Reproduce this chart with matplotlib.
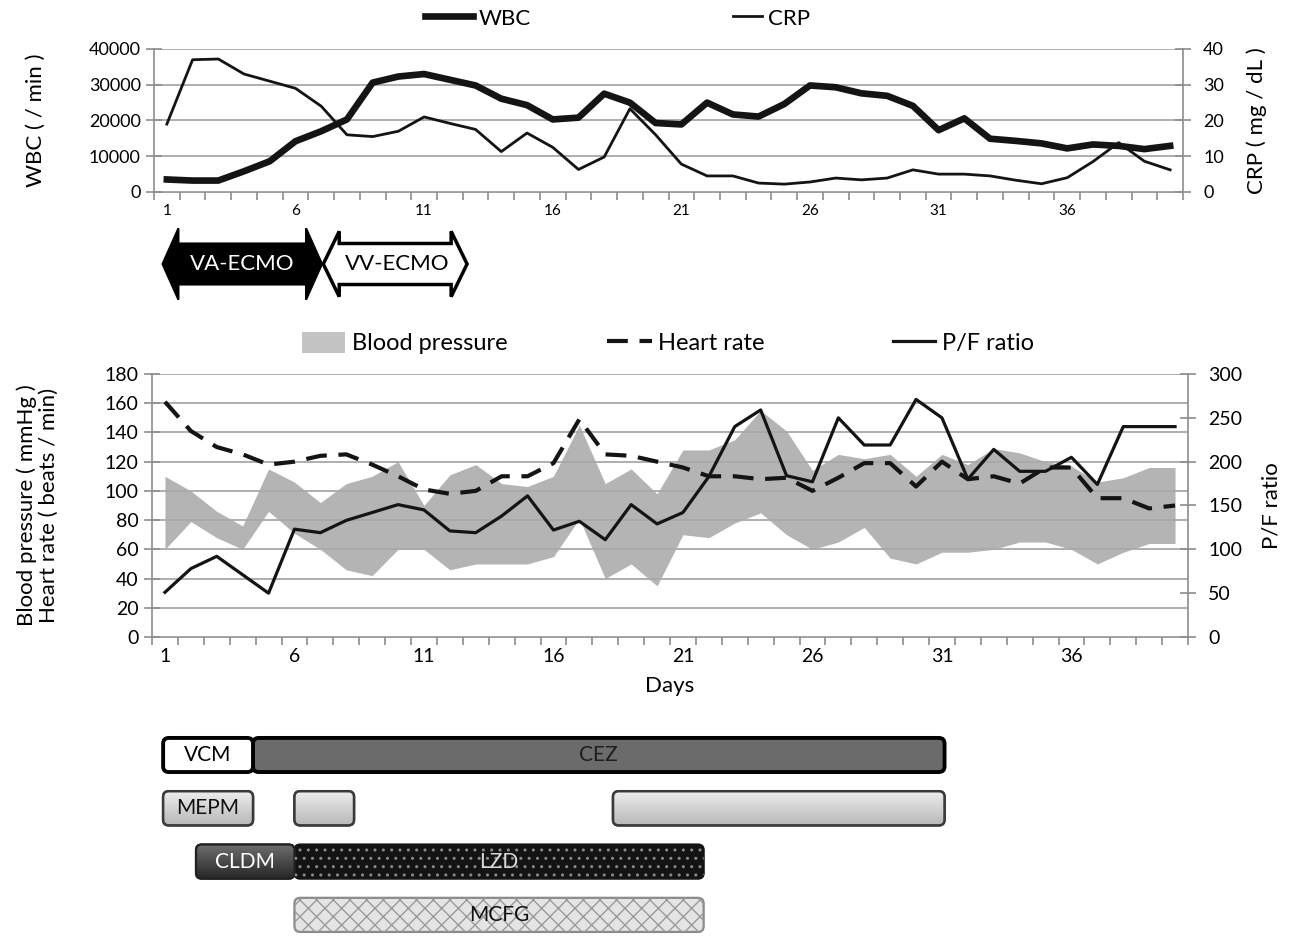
import numpy as np
import matplotlib.pyplot as plt
from matplotlib.patches import Polygon, FancyBboxPatch, Patch
from matplotlib.lines import Line2D

plt.rcParams['font.family'] = ['Lato', 'DejaVu Sans']

days = np.arange(1, 41)
day_ticks = [1, 6, 11, 16, 21, 26, 31, 36]

# top panel
wbc = [3500, 3200, 3200, 5800, 8600, 14200, 17000, 20300, 30600, 32300,
       33000, 31400, 29800, 26100, 24300, 20300, 20800, 27500, 25000, 19300,
       18900, 25000, 21700, 21100, 24600, 29800, 29300, 27600, 26900, 24100,
       17300, 20600, 14900, 14300, 13600, 12200, 13300, 12900, 12000, 12900]
crp = [19, 37, 37.2, 33, 31, 29, 24, 16, 15.5, 17,
       21, 19.2, 17.5, 11.3, 16.5, 12.5, 6.3, 9.8, 23.3, 16,
       7.8, 4.5, 4.5, 2.5, 2.2, 2.8, 3.9, 3.4, 3.9, 6.2,
       5, 5, 4.5, 3.3, 2.3, 4, 8.5, 13.8, 8.6, 6.2]

# middle panel
bp_high = [110, 100, 86, 76, 115, 106, 92, 105, 110, 120,
           90, 111, 118, 105, 103, 110, 145, 105, 115, 98,
           128, 128, 135, 155, 141, 114, 125, 122, 125, 110,
           125, 118, 129, 126, 120, 117, 106, 109, 116, 116]
bp_low = [60, 79, 68, 60, 86, 71, 60, 46, 42, 60,
          60, 46, 50, 50, 50, 55, 81, 40, 50, 35,
          70, 68, 78, 85, 70, 60, 65, 75, 54, 50,
          58, 58, 60, 65, 65, 60, 50, 58, 64, 64]
heart_rate = [161, 141, 130, 125, 118, 120, 124, 125, 118, 110,
              101, 98, 100, 110, 110, 119, 149, 125, 124, 120,
              116, 110, 110, 108, 109, 100, 109, 119, 119, 103,
              120, 108, 110, 105, 116, 116, 95, 95, 88, 90]
pf_ratio = [51, 78, 92, 71, 50, 123, 119, 133, 142, 151,
            145, 121, 119, 138, 161, 122, 132, 111, 151, 129,
            142, 183, 240, 259, 184, 177, 250, 219, 219, 271,
            250, 180, 214, 189, 189, 205, 174, 240, 240, 240]

# ECMO periods (days)
ecmo_labels = ['VA-ECMO', 'VV-ECMO']
ecmo_start = [0.83, 7.03]
ecmo_end = [7.03, 12.67]

# antimicrobials (days)
drug_kind = ['CEZ', 'VCM', 'MEPM', 'MEPM', 'MEPM', 'CLDM', 'LZD', 'MCFG']
drug_labels = ['CEZ', 'VCM', 'MEPM', '', '', 'CLDM', 'LZD', 'MCFG']
drug_rows = [0, 0, 1, 1, 1, 2, 2, 3]
drug_start = [4.4, 0.93, 0.93, 6.0, 18.3, 2.2, 6.0, 6.0]
drug_end = [31.1, 4.4, 4.4, 8.3, 31.1, 6.0, 21.8, 21.8]

W, H = 1293, 936
fig = plt.figure(figsize=(W / 100, H / 100), dpi=100)


def box(l, t, r, b):
    return [l / W, 1 - b / H, (r - l) / W, (b - t) / H]


grid_c = '#a8a8a8'
axis_c = '#8c8c8c'
line_c = '#141414'
hr_dash = (0, (5, 2.8))


def style_axes(ax, axr):
    ax.set_xlim(0.5, 40.5)
    ax.set_xticks(day_ticks)
    ax.set_xticks(np.arange(0.5, 41, 1), minor=True)
    ax.tick_params(axis='x', which='major', length=0)
    ax.tick_params(axis='x', which='minor', length=6, color=axis_c, width=1.2)
    ax.tick_params(axis='y', length=11, direction='inout', color=axis_c, width=1.2, pad=4)
    axr.tick_params(axis='y', length=11, direction='inout', color=axis_c, width=1.2, pad=9)
    for s in ['top', 'right']:
        ax.spines[s].set_visible(False)
    for s in ['top', 'left', 'bottom']:
        axr.spines[s].set_visible(False)
    for a, s in [(ax, 'left'), (ax, 'bottom'), (axr, 'right')]:
        a.spines[s].set_color(axis_c)
        a.spines[s].set_linewidth(1.2)
    ax.grid(axis='y', color=grid_c, lw=1.3)
    ax.set_axisbelow(False)


def legend_item(handle, label, x, y, hlen, size):
    fig.legend(handles=[handle], labels=[label], loc='center left',
               bbox_to_anchor=(x / W, 1 - y / H), frameon=False, fontsize=size,
               handlelength=hlen, handleheight=1.0, handletextpad=0.28,
               borderpad=0, borderaxespad=0)


# ---- top panel: WBC / CRP
ax1 = fig.add_axes(box(154, 49, 1183, 192))
ax1.plot(days, wbc, color=line_c, lw=4.8, solid_joinstyle='round', zorder=3)
ax1b = ax1.twinx()
ax1b.plot(days, crp, color=line_c, lw=2.0)
ax1.set_ylim(0, 40000)
ax1b.set_ylim(0, 40)
ax1.set_yticks(range(0, 40001, 10000))
ax1b.set_yticks(range(0, 41, 10))
style_axes(ax1, ax1b)
ax1.tick_params(axis='x', labelsize=11, pad=9)
ax1.tick_params(axis='y', labelsize=13)
ax1b.tick_params(axis='y', labelsize=13)
ax1.set_ylabel('WBC ( / min )', fontsize=16, labelpad=31)
ax1b.set_ylabel('CRP ( mg / dL )', fontsize=16, labelpad=16)

legend_item(Line2D([], [], color=line_c, lw=4.8), 'WBC', 425, 18, 2.15, 16)
legend_item(Line2D([], [], color=line_c, lw=2.0), 'CRP', 733, 18, 1.3, 16)

# ---- ECMO arrows
axe = fig.add_axes(box(154, 226, 1183, 302))
axe.set_xlim(0.5, 40.5)
axe.set_ylim(0, 1)
axe.axis('off')
hl = 0.62
for i, (lab, s, e) in enumerate(zip(ecmo_labels, ecmo_start, ecmo_end)):
    if i == 0:
        pts = [(s, .5), (s + hl, .97), (s + hl, .77), (e - hl, .77), (e - hl, .97), (e, .5),
               (e - hl, .03), (e - hl, .23), (s + hl, .23), (s + hl, .03)]
        axe.add_patch(Polygon(pts, closed=True, fc='black', ec='black', lw=1.5))
        axe.text((s + e) / 2, .5, lab, ha='center', va='center', color='white', fontsize=16)
    else:
        s2 = s + 0.05
        pts = [(s2, .5), (s2 + hl, .93), (s2 + hl, .77), (e - hl, .77), (e - hl, .93), (e, .5),
               (e - hl, .07), (e - hl, .23), (s2 + hl, .23), (s2 + hl, .07)]
        axe.add_patch(Polygon(pts, closed=True, fc='white', ec='black', lw=2.5, joinstyle='miter'))
        axe.text((s + e) / 2 + 0.1, .5, lab, ha='center', va='center', color='black', fontsize=16)

# ---- middle panel: BP / HR / PF
ax2 = fig.add_axes(box(152, 374, 1188, 637))
ax2.fill_between(days, bp_low, bp_high, color='#b4b4b4', lw=0, zorder=1)
ax2.plot(days, heart_rate, color=line_c, lw=3.0, ls=hr_dash, zorder=3)
ax2b = ax2.twinx()
ax2b.plot(days, pf_ratio, color=line_c, lw=2.3)
ax2.set_ylim(0, 180)
ax2b.set_ylim(0, 300)
ax2.set_yticks(range(0, 181, 20))
ax2b.set_yticks(range(0, 301, 50))
style_axes(ax2, ax2b)
ax2.tick_params(axis='x', labelsize=14, pad=8)
ax2.tick_params(axis='y', labelsize=14)
ax2b.tick_params(axis='y', labelsize=14)
ax2.set_xlabel('Days', fontsize=16, labelpad=8)
ax2.set_ylabel('Blood pressure ( mmHg )\nHeart rate ( beats / min)', fontsize=16,
               labelpad=33, linespacing=1.1)
ax2b.set_ylabel('P/F ratio', fontsize=16, labelpad=14)

legend_item(Patch(fc='#c4c4c4', ec='none'), 'Blood pressure', 302, 343, 1.82, 17)
legend_item(Line2D([], [], color=line_c, lw=3.0, ls=hr_dash), 'Heart rate', 607, 343, 1.9, 17)
legend_item(Line2D([], [], color=line_c, lw=2.3), 'P/F ratio', 893, 343, 1.78, 17)

# ---- antimicrobial bars
axd = fig.add_axes(box(152, 727, 1188, 936))
axd.axis('off')

styles = {
    'VCM': dict(fc='white', ec='black', lw=2.8, tc='black'),
    'CEZ': dict(fc='#6b6b6b', ec='black', lw=2.8, tc='#1e1e1e'),
    'MEPM': dict(fc='#d6d6d6', ec='#3a3a3a', lw=1.8, tc='#111111', grad=('#b8b8b8', '#efefef')),
    'CLDM': dict(fc='#454545', ec='#222222', lw=1.6, tc='white', grad=('#262626', '#6e6e6e')),
    'LZD': dict(fc='#141414', ec='#141414', lw=1.6, tc='#d8d8d8', hatch='..', hc='#8a8a8a'),
    'MCFG': dict(fc='#e4e4e4', ec='#8a8a8a', lw=1.6, tc='#111111', hatch='xx', hc='#9a9a9a'),
}
bh = 0.64
for kind, lab, r, s, e in zip(drug_kind, drug_labels, drug_rows, drug_start, drug_end):
    st = styles[kind]
    bs = 'round,pad=0,rounding_size=0.22'
    p = FancyBboxPatch((s, r - bh / 2), e - s, bh, boxstyle=bs, mutation_aspect=0.486,
                       fc=st['fc'], ec=st['ec'], lw=st['lw'], zorder=2)
    axd.add_patch(p)
    if 'grad' in st:
        c0 = np.array(plt.matplotlib.colors.to_rgb(st['grad'][0]))
        c1 = np.array(plt.matplotlib.colors.to_rgb(st['grad'][1]))
        t = np.linspace(0, 1, 64)[:, None, None]
        img = c0 * (1 - t) + c1 * t
        im = axd.imshow(img, extent=(s, e, r + bh / 2, r - bh / 2), origin='lower',
                        aspect='auto', zorder=2.1, interpolation='bilinear')
        im.set_clip_path(p)
        axd.add_patch(FancyBboxPatch((s, r - bh / 2), e - s, bh, boxstyle=bs,
                                     mutation_aspect=0.486, fc='none', ec=st['ec'],
                                     lw=st['lw'], zorder=2.2))
    if 'hatch' in st:
        axd.add_patch(FancyBboxPatch((s, r - bh / 2), e - s, bh, boxstyle=bs, mutation_aspect=0.486,
                                     fc='none', ec=st['hc'], lw=0, hatch=st['hatch'], zorder=3))
    if lab:
        axd.text((s + e) / 2, r, lab, ha='center', va='center', fontsize=15,
                 color=st['tc'], zorder=4)
axd.set_xlim(0.5, 40.5)
axd.set_ylim(3.396, -0.525)

fig.savefig('out.png', dpi=100, facecolor='white')
